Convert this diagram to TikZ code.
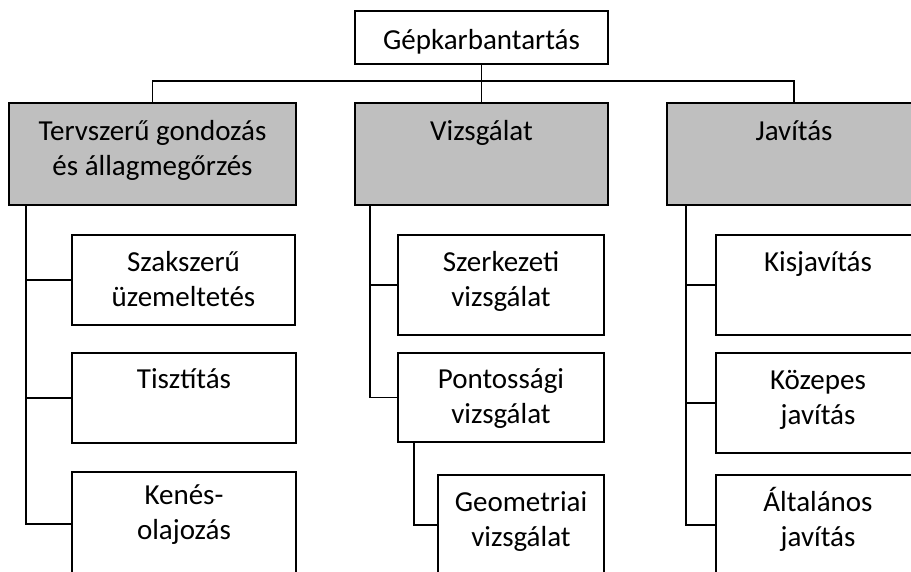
\documentclass[tikz,border=0pt]{standalone}
\usepackage{fontspec}
\setmainfont{Carlito}
\definecolor{headgray}{RGB}{191,191,191}
\begin{document}
\begin{tikzpicture}[x=1pt,y=-1pt,
  box/.style={draw=black, line width=1.6pt, rectangle, inner sep=0pt},
  head/.style={box, fill=headgray},
  link/.style={draw=black, line width=1.4pt},
  txt/.style={anchor=base, inner sep=0pt, font=\fontsize{29}{35}\selectfont},
]
\useasboundingbox (0,0) rectangle (911,572);
\clip (0,0) rectangle (911,572);
\fill[white] (0,0) rectangle (911,572);

% root and the three main groups
\node[box, minimum width=253pt, minimum height=53pt] (root) at (481.5,37.5) {};
\node[head, minimum width=287pt, minimum height=102pt] (gL) at (152.5,154) {};
\node[head, minimum width=253pt, minimum height=102pt] (gM) at (481.5,154) {};
\node[head, minimum width=254pt, minimum height=102pt] (gR) at (794,154) {};

% left column
\node[box, minimum width=223pt, minimum height=90pt] (c1) at (183.5,280) {};
\node[box, minimum width=224pt, minimum height=90pt] (c2) at (184,398) {};
\node[box, minimum width=224pt, minimum height=104pt] (c3) at (184,524) {};

% middle column
\node[box, minimum width=206pt, minimum height=100pt] (m1) at (501,285) {};
\node[box, minimum width=206pt, minimum height=89pt] (m2) at (501,397.5) {};
\node[box, minimum width=166pt, minimum height=100pt] (m3) at (521,525) {};

% right column
\node[box, minimum width=204pt, minimum height=100pt] (r1) at (818,285) {};
\node[box, minimum width=204pt, minimum height=100pt] (r2) at (818,403) {};
\node[box, minimum width=204pt, minimum height=100pt] (r3) at (818,525) {};

% texts, top aligned in their boxes
\node[txt, yshift=-39pt] (rootT) at (root.north) {\parbox[t]{250pt}{\centering Gépkarbantartás}};
\node[txt, yshift=-38.5pt] (gLT) at (gL.north) {\parbox[t]{285pt}{\centering Tervszerű gondozás\\és állagmegőrzés}};
\node[txt, yshift=-38pt] (gMT) at (gM.north) {\parbox[t]{250pt}{\centering Vizsgálat}};
\node[txt, yshift=-38pt] (gRT) at (gR.north) {\parbox[t]{250pt}{\centering Javítás}};

\node[txt, yshift=-37pt] (c1T) at (c1.north) {\parbox[t]{220pt}{\centering Szakszerű\\üzemeltetés}};
\node[txt, yshift=-36pt] (c2T) at (c2.north) {\parbox[t]{220pt}{\centering Tisztítás}};
\node[txt, yshift=-33pt] (c3T) at (c3.north) {\parbox[t]{220pt}{\centering Kenés-\\olajozás}};

\node[txt, yshift=-37pt] (m1T) at (m1.north) {\parbox[t]{200pt}{\centering Szerkezeti\\vizsgálat}};
\node[txt, yshift=-36pt] (m2T) at (m2.north) {\parbox[t]{200pt}{\centering Pontossági\\vizsgálat}};
\node[txt, yshift=-37pt] (m3T) at (m3.north) {\parbox[t]{160pt}{\centering Geometriai\\vizsgálat}};

\node[txt, yshift=-37pt] (r1T) at (r1.north) {\parbox[t]{200pt}{\centering Kisjavítás}};
\node[txt, yshift=-37pt] (r2T) at (r2.north) {\parbox[t]{200pt}{\centering Közepes\\javítás}};
\node[txt, yshift=-37pt] (r3T) at (r3.north) {\parbox[t]{200pt}{\centering Általános\\javítás}};

% connectors from the root to the main groups
\coordinate (bus) at (0,81);
\draw[link] (root.south) -- (root.south |- bus);
\draw[link] (gL.north) -- (gL.north |- bus) -- (gR.north |- bus) -- (gR.north);
\draw[link] (gM.north |- bus) -- (gM.north);

% trunks down each column
\coordinate (tL) at (26,205);
\coordinate (tM) at (370,205);
\coordinate (tR) at (686,205);
\coordinate (tP) at (414,442);

\draw[link] (tL) |- (c1.west);
\draw[link] (tL) |- (c2.west);
\draw[link] (tL) |- (c3.west);

\draw[link] (tM) |- (m1.west);
\draw[link] (tM) |- (m2.west);
\draw[link] (tP) |- (m3.west);

\draw[link] (tR) |- (r1.west);
\draw[link] (tR) |- (r2.west);
\draw[link] (tR) |- (r3.west);
\end{tikzpicture}
\end{document}
